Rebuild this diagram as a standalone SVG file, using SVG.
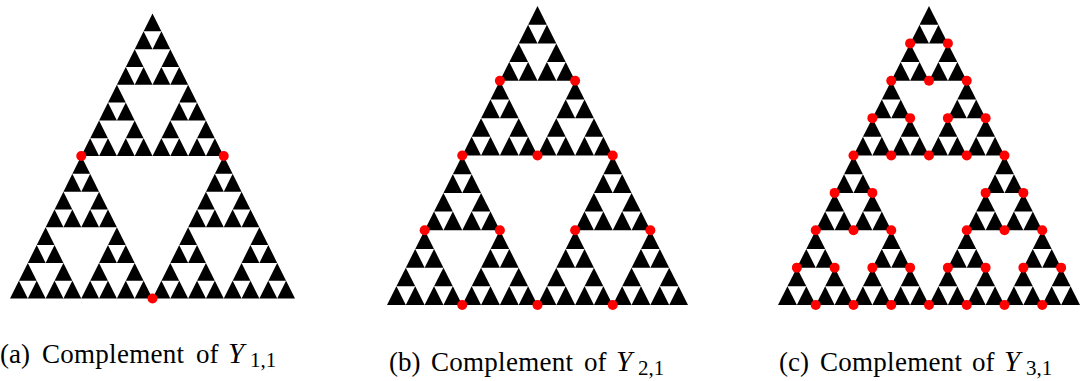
<svg xmlns="http://www.w3.org/2000/svg" width="1084" height="381" viewBox="0 0 1084 381">
<style>
.tri{fill:#000}
.dot{fill:#ff0000}
.cap{font-family:"Liberation Serif","DejaVu Serif",serif;font-size:27px;fill:#000}
.sub{font-size:21px}
.it{font-style:italic;font-size:29px}
</style>
<defs>
<polygon id="t0" class="tri" points="0,0 0.5,1 -0.5,1"/>
<g id="t1"><use href="#t0" transform="scale(.5)"/><use href="#t0" transform="translate(-.25,.5) scale(.5)"/><use href="#t0" transform="translate(.25,.5) scale(.5)"/></g>
<g id="t2"><use href="#t1" transform="scale(.5)"/><use href="#t1" transform="translate(-.25,.5) scale(.5)"/><use href="#t1" transform="translate(.25,.5) scale(.5)"/></g>
<g id="t3"><use href="#t2" transform="scale(.5)"/><use href="#t2" transform="translate(-.25,.5) scale(.5)"/><use href="#t2" transform="translate(.25,.5) scale(.5)"/></g>
<g id="t4"><use href="#t3" transform="scale(.5)"/><use href="#t3" transform="translate(-.25,.5) scale(.5)"/><use href="#t3" transform="translate(.25,.5) scale(.5)"/></g>
</defs>

<g id="panel-a">
<use href="#t4" transform="translate(152.5,13.5) scale(285,285)"/>
<g id="dots-a">
<circle class="dot" cx="81.25" cy="156" r="5"/>
<circle class="dot" cx="223.75" cy="156" r="5"/>
<circle class="dot" cx="152.5" cy="298.5" r="5"/>
</g>
<text id="cap-a" class="cap" y="363"><tspan x="0">(a)</tspan><tspan x="42" textLength="142" lengthAdjust="spacing">Complement</tspan><tspan x="196">of</tspan><tspan x="228" class="it">Y</tspan><tspan x="250" class="sub" dy="4">1,1</tspan></text>
</g>

<g id="panel-b">
<use href="#t4" transform="translate(537.5,6) scale(301,299)"/>
<g id="dots-b">
<circle class="dot" cx="499.875" cy="80.75" r="5"/>
<circle class="dot" cx="575.125" cy="80.75" r="5"/>
<circle class="dot" cx="462.25" cy="155.5" r="5"/>
<circle class="dot" cx="537.5" cy="155.5" r="5"/>
<circle class="dot" cx="612.75" cy="155.5" r="5"/>
<circle class="dot" cx="424.625" cy="230.25" r="5"/>
<circle class="dot" cx="499.875" cy="230.25" r="5"/>
<circle class="dot" cx="575.125" cy="230.25" r="5"/>
<circle class="dot" cx="650.375" cy="230.25" r="5"/>
<circle class="dot" cx="462.25" cy="305" r="5"/>
<circle class="dot" cx="537.5" cy="305" r="5"/>
<circle class="dot" cx="612.75" cy="305" r="5"/>
</g>
<text id="cap-b" class="cap" y="370.5"><tspan x="389">(b)</tspan><tspan x="431" textLength="142" lengthAdjust="spacing">Complement</tspan><tspan x="584">of</tspan><tspan x="616" class="it">Y</tspan><tspan x="638" class="sub" dy="4">2,1</tspan></text>
</g>

<g id="panel-c">
<use href="#t4" transform="translate(929,6) scale(302,299)"/>
<g id="dots-c">
<circle class="dot" cx="910.125" cy="43.375" r="5"/>
<circle class="dot" cx="947.875" cy="43.375" r="5"/>
<circle class="dot" cx="891.25" cy="80.75" r="5"/>
<circle class="dot" cx="929" cy="80.75" r="5"/>
<circle class="dot" cx="966.75" cy="80.75" r="5"/>
<circle class="dot" cx="872.375" cy="118.125" r="5"/>
<circle class="dot" cx="910.125" cy="118.125" r="5"/>
<circle class="dot" cx="947.875" cy="118.125" r="5"/>
<circle class="dot" cx="985.625" cy="118.125" r="5"/>
<circle class="dot" cx="853.5" cy="155.5" r="5"/>
<circle class="dot" cx="891.25" cy="155.5" r="5"/>
<circle class="dot" cx="929" cy="155.5" r="5"/>
<circle class="dot" cx="966.75" cy="155.5" r="5"/>
<circle class="dot" cx="1004.5" cy="155.5" r="5"/>
<circle class="dot" cx="834.625" cy="192.875" r="5"/>
<circle class="dot" cx="872.375" cy="192.875" r="5"/>
<circle class="dot" cx="985.625" cy="192.875" r="5"/>
<circle class="dot" cx="1023.375" cy="192.875" r="5"/>
<circle class="dot" cx="815.75" cy="230.25" r="5"/>
<circle class="dot" cx="853.5" cy="230.25" r="5"/>
<circle class="dot" cx="891.25" cy="230.25" r="5"/>
<circle class="dot" cx="966.75" cy="230.25" r="5"/>
<circle class="dot" cx="1004.5" cy="230.25" r="5"/>
<circle class="dot" cx="1042.25" cy="230.25" r="5"/>
<circle class="dot" cx="796.875" cy="267.625" r="5"/>
<circle class="dot" cx="834.625" cy="267.625" r="5"/>
<circle class="dot" cx="872.375" cy="267.625" r="5"/>
<circle class="dot" cx="910.125" cy="267.625" r="5"/>
<circle class="dot" cx="947.875" cy="267.625" r="5"/>
<circle class="dot" cx="985.625" cy="267.625" r="5"/>
<circle class="dot" cx="1023.375" cy="267.625" r="5"/>
<circle class="dot" cx="1061.125" cy="267.625" r="5"/>
<circle class="dot" cx="815.75" cy="305" r="5"/>
<circle class="dot" cx="853.5" cy="305" r="5"/>
<circle class="dot" cx="891.25" cy="305" r="5"/>
<circle class="dot" cx="929" cy="305" r="5"/>
<circle class="dot" cx="966.75" cy="305" r="5"/>
<circle class="dot" cx="1004.5" cy="305" r="5"/>
<circle class="dot" cx="1042.25" cy="305" r="5"/>
</g>
<text id="cap-c" class="cap" y="370.5"><tspan x="779">(c)</tspan><tspan x="820" textLength="142" lengthAdjust="spacing">Complement</tspan><tspan x="972">of</tspan><tspan x="1004" class="it">Y</tspan><tspan x="1026" class="sub" dy="4">3,1</tspan></text>
</g>
</svg>
